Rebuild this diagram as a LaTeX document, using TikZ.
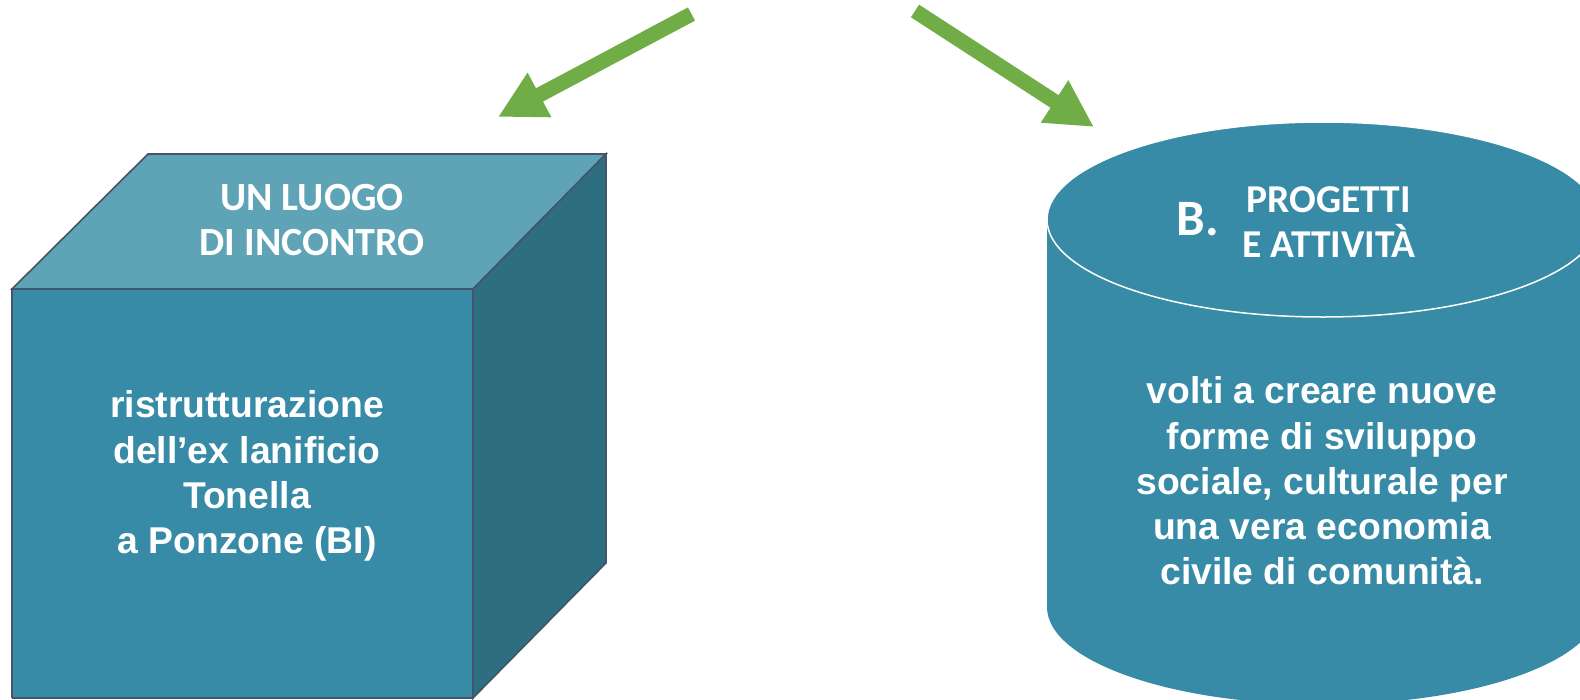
\documentclass[tikz,border=0pt]{standalone}
\usepackage{fontspec}
\setmainfont{Liberation Sans}
\newfontfamily\titlefont{Carlito}
\usetikzlibrary{arrows.meta}
\definecolor{frontc}{HTML}{388BA6}
\definecolor{topc}{HTML}{5FA3B7}
\definecolor{sidec}{HTML}{2D6F81}
\definecolor{edgec}{HTML}{44546A}
\definecolor{arrowc}{HTML}{70AD47}
\tikzset{
  face/.style={draw=edgec, line width=1.6pt, line join=miter},
  bigarrow/.style={draw=arrowc, line width=15pt, -{Triangle[length=47pt,width=47pt]}},
  bodytext/.style={text=white, align=center, font=\fontsize{37.3}{45.3}\selectfont\bfseries, inner sep=0pt},
  titletext/.style={text=white, align=center, font=\titlefont\fontsize{40}{45}\selectfont\bfseries, inner sep=0pt},
}
\begin{document}
\begin{tikzpicture}[x=1pt,y=-1pt]
\useasboundingbox (0,0) rectangle (1580,699);
\clip (0,0) rectangle (1580,699);
% cube corners
\coordinate (fa) at (12,289);
\coordinate (fb) at (473,289);
\coordinate (fc) at (473,698);
\coordinate (fd) at (12,698);
\coordinate (ba) at (148,154);
\coordinate (bb) at (606,154);
\coordinate (bc) at (606,563);
\fill[frontc] (fa) -- (fb) -- (fc) -- (fd) -- cycle;
\draw[face] (fd) -- (fa) -- (fb) -- (fc) -- (fd);
\filldraw[face, fill=topc] (fa) -- (ba) -- (bb) -- (fb) -- cycle;
\filldraw[face, fill=sidec] (fb) -- (bb) -- (bc) -- (fc) -- cycle;
\node[titletext] (cubetitle) at (312,220) {UN LUOGO\\DI INCONTRO};
\node[bodytext] (cubebody) at (247,476) {ristrutturazione\\dell’ex lanificio\\Tonella\\a Ponzone (BI)};
% cylinder
\fill[frontc] (1047,219.5) -- (1047,607) arc[start angle=180, end angle=0, x radius=276, y radius=97.5] -- (1599,219.5) -- cycle;
\filldraw[fill=frontc, draw=white, line width=1.5pt] (1323,219.5) ellipse [x radius=276, y radius=97.5];
\node[text=white, inner sep=0pt, font=\titlefont\fontsize{51}{54}\selectfont\bfseries] (cylB) at (1198,219) {B.};
\node[titletext, font=\titlefont\fontsize{39.5}{45}\selectfont\bfseries] (cyltitle) at (1329,222) {PROGETTI\\E ATTIVITÀ};
\node[bodytext] (cylbody) at (1322,481) {volti a creare nuove\\forme di sviluppo\\sociale, culturale per\\una vera economia\\civile di comunità.};
% arrows
\coordinate (la0) at (691.5,14);
\coordinate (la1) at (498,117);
\coordinate (ra0) at (915,11);
\coordinate (ra1) at (1094,127);
\draw[bigarrow] (la0) -- (la1);
\draw[bigarrow] (ra0) -- (ra1);
\end{tikzpicture}
\end{document}
